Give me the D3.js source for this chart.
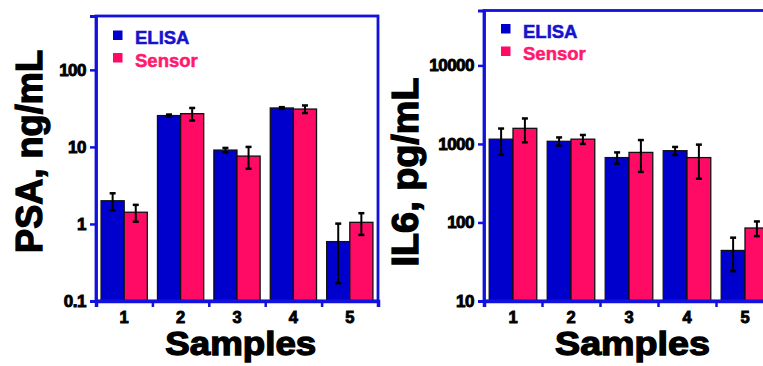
<!DOCTYPE html>
<html>
<head>
<meta charset="utf-8">
<script src="https://cdn.jsdelivr.net/npm/d3@7"></script>
<style>
body { margin: 0; background: #fff; }
svg { display: block; font-family: "Liberation Sans", Arial, sans-serif; font-weight: bold; }
</style>
</head>
<body>
<div id="chart"></div>
<script>
var samples = ["1", "2", "3", "4", "5"];
var series = ["ELISA", "Sensor"];

var psaElisa = [2.0, 25.5, 9.1, 32, 0.59];
var psaElisaErr = [0.5, 0.8, 0.6, 0.8, 0.42];
var psaSensor = [1.42, 27, 7.6, 31, 1.05];
var psaSensorErr = [0.35, 5, 2.4, 3.5, 0.33];
var psaTicks = [0.1, 1, 10, 100];

var il6Elisa = [1150, 1080, 670, 820, 44];
var il6ElisaErr = [420, 130, 110, 95, 20];
var il6Sensor = [1580, 1150, 780, 670, 85];
var il6SensorErr = [530, 150, 340, 310, 18];
var il6Ticks = [10, 100, 1000, 10000];

var w = 763;
var h = 366;
var colors = {ELISA: "#0000cc", Sensor: "#ff0a64"};
var legendText = {ELISA: "#1414cc", Sensor: "#ff1a6e"};
var frameColor = "#1212dc";

var svg = d3.select('#chart')
	.append('svg')
	.attr('width', w)
	.attr('height', h);

function panel(p) {
	var g = svg.append('g');
	var x = d3.scaleBand()
		.domain(samples)
		.range([p.left, p.right])
		.paddingInner(0.18)
		.paddingOuter(0.09);
	var xs = d3.scaleBand()
		.domain(series)
		.range([0, x.bandwidth()]);
	var xTick = d3.scaleLinear()
		.domain([0, samples.length])
		.range([p.left, p.right]);
	var y = d3.scaleLog()
		.domain(p.domain)
		.range([p.bottom, p.top]);

	var rows = [];
	samples.forEach(function (s, i) {
		rows.push({s: s, k: "ELISA", v: p.elisa[i], e: p.elisaErr[i]});
		rows.push({s: s, k: "Sensor", v: p.sensor[i], e: p.sensorErr[i]});
	});

	g.selectAll('rect.bar')
		.data(rows)
		.enter()
		.append('rect')
		.attr('class', 'bar')
		.attr('x', function (d) {return x(d.s) + xs(d.k);})
		.attr('y', function (d) {return y(d.v);})
		.attr('width', xs.bandwidth())
		.attr('height', function (d) {return y(p.domain[0]) - y(d.v);})
		.attr('fill', function (d) {return colors[d.k];})
		.attr('stroke', '#111')
		.attr('stroke-width', 1.3);

	// error bars
	var eb = g.selectAll('g.err')
		.data(rows)
		.enter()
		.append('g')
		.attr('class', 'err')
		.attr('transform', function (d) {return 'translate(' + (x(d.s) + xs(d.k) + xs.bandwidth() / 2) + ',0)';});
	eb.append('line')
		.attr('y1', function (d) {return y(d.v + d.e);})
		.attr('y2', function (d) {return y(Math.max(d.v - d.e, p.domain[0]));})
		.attr('stroke', '#000')
		.attr('stroke-width', 2);
	eb.append('line')
		.attr('x1', -3).attr('x2', 3)
		.attr('y1', function (d) {return y(d.v + d.e);})
		.attr('y2', function (d) {return y(d.v + d.e);})
		.attr('stroke', '#000')
		.attr('stroke-width', 2.5);
	eb.append('line')
		.attr('x1', -3).attr('x2', 3)
		.attr('y1', function (d) {return y(d.v - d.e);})
		.attr('y2', function (d) {return y(d.v - d.e);})
		.attr('stroke', '#000')
		.attr('stroke-width', 2.5);

	// frame
	g.append('rect')
		.attr('x', p.left)
		.attr('y', p.top)
		.attr('width', p.right - p.left)
		.attr('height', p.bottom - p.top)
		.attr('fill', 'none')
		.attr('stroke', frameColor)
		.attr('stroke-width', 2.8);

	// y axis
	var ya = g.append('g')
		.attr('transform', 'translate(' + p.left + ',0)')
		.call(d3.axisLeft(y).tickValues(p.ticks).tickFormat(function (d) {return String(d);}).tickSize(6).tickPadding(4));
	ya.select('.domain').attr('stroke', frameColor).attr('stroke-width', 2.8);
	ya.selectAll('.tick line').attr('stroke', frameColor).attr('stroke-width', 2.5);
	ya.selectAll('.tick text')
		.attr('font-size', 17)
		.attr('font-family', '"Liberation Sans", Arial, sans-serif')
		.attr('font-weight', 'bold')
		.attr('fill', '#000')
		.attr('stroke', '#000')
		.attr('stroke-width', 0.9)
		.attr('letter-spacing', -0.5);

	// x axis: ticks between groups
	var xa = g.append('g')
		.attr('transform', 'translate(0,' + p.bottom + ')')
		.call(d3.axisBottom(xTick).tickValues(d3.range(samples.length + 1)).tickFormat('').tickSize(6));
	xa.select('.domain').attr('stroke', frameColor).attr('stroke-width', 3.5);
	xa.selectAll('.tick line').attr('stroke', frameColor).attr('stroke-width', 2.5);

	var xl = g.append('g')
		.attr('transform', 'translate(0,' + p.bottom + ')')
		.call(d3.axisBottom(x).tickSize(0).tickPadding(10));
	xl.select('.domain').remove();
	xl.selectAll('.tick text')
		.attr('font-size', 16.5)
		.attr('font-family', '"Liberation Sans", Arial, sans-serif')
		.attr('font-weight', 'bold')
		.attr('fill', '#000')
		.attr('stroke', '#000')
		.attr('stroke-width', 0.9);

	// titles
	g.append('text')
		.attr('transform', 'translate(' + p.yTitleX + ',' + p.yTitleY + ') rotate(-90)')
		.attr('text-anchor', 'middle')
		.attr('font-size', 36)
		.attr('textLength', p.yTitleLen)
		.attr('lengthAdjust', 'spacingAndGlyphs')
		.attr('stroke', '#000')
		.attr('stroke-width', 1.3)
		.text(p.yTitle);
	g.append('text')
		.attr('x', p.xTitleX)
		.attr('y', 355)
		.attr('text-anchor', 'middle')
		.attr('font-size', 33)
		.attr('textLength', p.xTitleLen)
		.attr('lengthAdjust', 'spacingAndGlyphs')
		.attr('stroke', '#000')
		.attr('stroke-width', 1.3)
		.text('Samples');

	// legend
	var lg = g.selectAll('g.leg')
		.data(series)
		.enter()
		.append('g')
		.attr('class', 'leg')
		.attr('transform', function (d, i) {return 'translate(' + (p.left + 17) + ',' + (p.legY + i * 22.5) + ')';});
	lg.append('rect')
		.attr('x', 0)
		.attr('y', -13.5)
		.attr('width', 9.5)
		.attr('height', 9.5)
		.attr('fill', function (d) {return colors[d];});
	lg.append('text')
		.attr('x', 22)
		.attr('y', 0)
		.attr('font-size', 18.5)
		.attr('fill', function (d) {return legendText[d];})
		.attr('stroke', function (d) {return legendText[d];})
		.attr('stroke-width', 0.5)
		.text(function (d) {return d;});
}

panel({
	left: 96, right: 378, top: 16, bottom: 301,
	domain: [0.1, 500], ticks: psaTicks,
	elisa: psaElisa, elisaErr: psaElisaErr,
	sensor: psaSensor, sensorErr: psaSensorErr,
	yTitle: 'PSA, ng/mL', yTitleX: 42, yTitleY: 151.5, yTitleLen: 203,
	xTitleX: 240.8, xTitleLen: 151,
	legY: 44
});

panel({
	left: 484, right: 774, top: 10.5, bottom: 301,
	domain: [10, 50000], ticks: il6Ticks,
	elisa: il6Elisa, elisaErr: il6ElisaErr,
	sensor: il6Sensor, sensorErr: il6SensorErr,
	yTitle: 'IL6, pg/mL', yTitleX: 418, yTitleY: 172, yTitleLen: 189,
	xTitleX: 632.5, xTitleLen: 155,
	legY: 37.5
});
</script>
</body>
</html>
